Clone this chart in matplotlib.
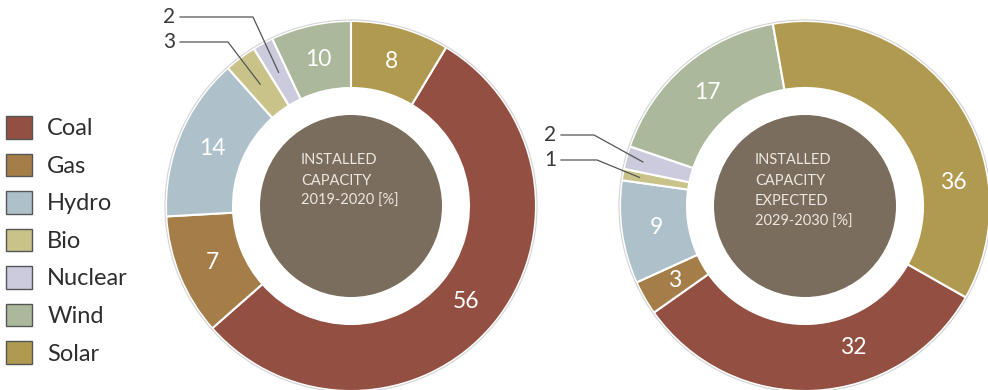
import numpy as np
import matplotlib.pyplot as plt
from matplotlib.patches import Patch, Circle

plt.rcParams['font.family'] = ['Lato', 'DejaVu Sans']

# Data
sources = ['Coal', 'Gas', 'Hydro', 'Bio', 'Nuclear', 'Wind', 'Solar']
colors = ['#924f42', '#a57d48', '#aec0c9', '#c9c38a', '#cccadd', '#abb89c', '#b09a50']
# wedge sizes as drawn in the picture, and the numbers printed on them
share_2020 = [54.9, 10.6, 14.3, 2.8, 1.8, 7.0, 8.6]
printed_2020 = ['56', '7', '14', '3', '2', '10', '8']
share_2030 = [32, 3, 9, 1, 2, 17, 36]
printed_2030 = ['32', '3', '9', '1', '2', '17', '36']
title_2020 = 'INSTALLED\nCAPACITY\n2019-2020 [%]'
title_2030 = 'INSTALLED\nCAPACITY\nEXPECTED\n2029-2030 [%]'

W, H = 988, 390
R, RING, CORE = 185, 67, 91

fig = plt.figure(figsize=(W / 100, H / 100), dpi=100)
ax = fig.add_axes([0, 0, 1, 1])


def donut(cx, cy, share, printed, top_edge, title, leaders, lead_r, nudge):
    start = top_edge - 3.6 * share[-1]
    wedges, _ = ax.pie(share, colors=colors, startangle=start, counterclock=False,
                       radius=R, center=(cx, cy),
                       wedgeprops=dict(width=RING, edgecolor='white', linewidth=1.5))
    ax.add_patch(Circle((cx, cy), R + 1, facecolor='none', edgecolor='#d4d4d4', lw=0.8))
    ax.add_patch(Circle((cx, cy), CORE, facecolor='#7b6d5d', edgecolor='none'))
    for i, (w, txt) in enumerate(zip(wedges, printed)):
        mid = np.deg2rad((w.theta1 + w.theta2) / 2)
        if i in leaders:
            tx, ty, ex = leaders[i]
            px, py = cx + lead_r * np.cos(mid), cy + lead_r * np.sin(mid)
            ax.plot([tx + 5, ex, px], [ty, ty, py], color='#555555', lw=0.9)
            ax.text(tx, ty, txt, ha='right', va='center', fontsize=15, color='#3a3a3a')
        else:
            a = mid + np.deg2rad(nudge.get(i, 0))
            ax.text(cx + 150 * np.cos(a), cy + 150 * np.sin(a), txt, ha='center',
                    va='center', fontsize=16.5, color='white')
    ax.text(cx - 50, cy + 53, title, ha='left', va='top', fontsize=10.5,
            color='#ece7e0', linespacing=1.6)


# leader label: index -> (text x, text y, elbow x), in pixel space (y up)
donut(351, H - 206, share_2020, printed_2020, 90, title_2020,
      {3: (175, H - 42, 228), 4: (175, H - 17, 253)}, 152, {})
donut(805, H - 206, share_2030, printed_2030, 100, title_2030,
      {3: (556, H - 160, 597), 4: (556, H - 135, 594)}, 168, {0: 16, 6: -26})

handles = [Patch(facecolor=c, edgecolor='#555555', lw=1) for c in colors]
ax.legend(handles, sources, loc='upper left', bbox_to_anchor=(6, H - 116),
          bbox_transform=ax.transData, frameon=False, fontsize=17,
          handlelength=1.1, handleheight=1.1, handletextpad=0.65,
          labelspacing=0.6, borderpad=0, borderaxespad=0, labelcolor='#2e2e2e')

ax.set_xlim(0, W)
ax.set_ylim(0, H)
ax.set_aspect('equal')
ax.axis('off')

fig.savefig('out.png', dpi=100)
